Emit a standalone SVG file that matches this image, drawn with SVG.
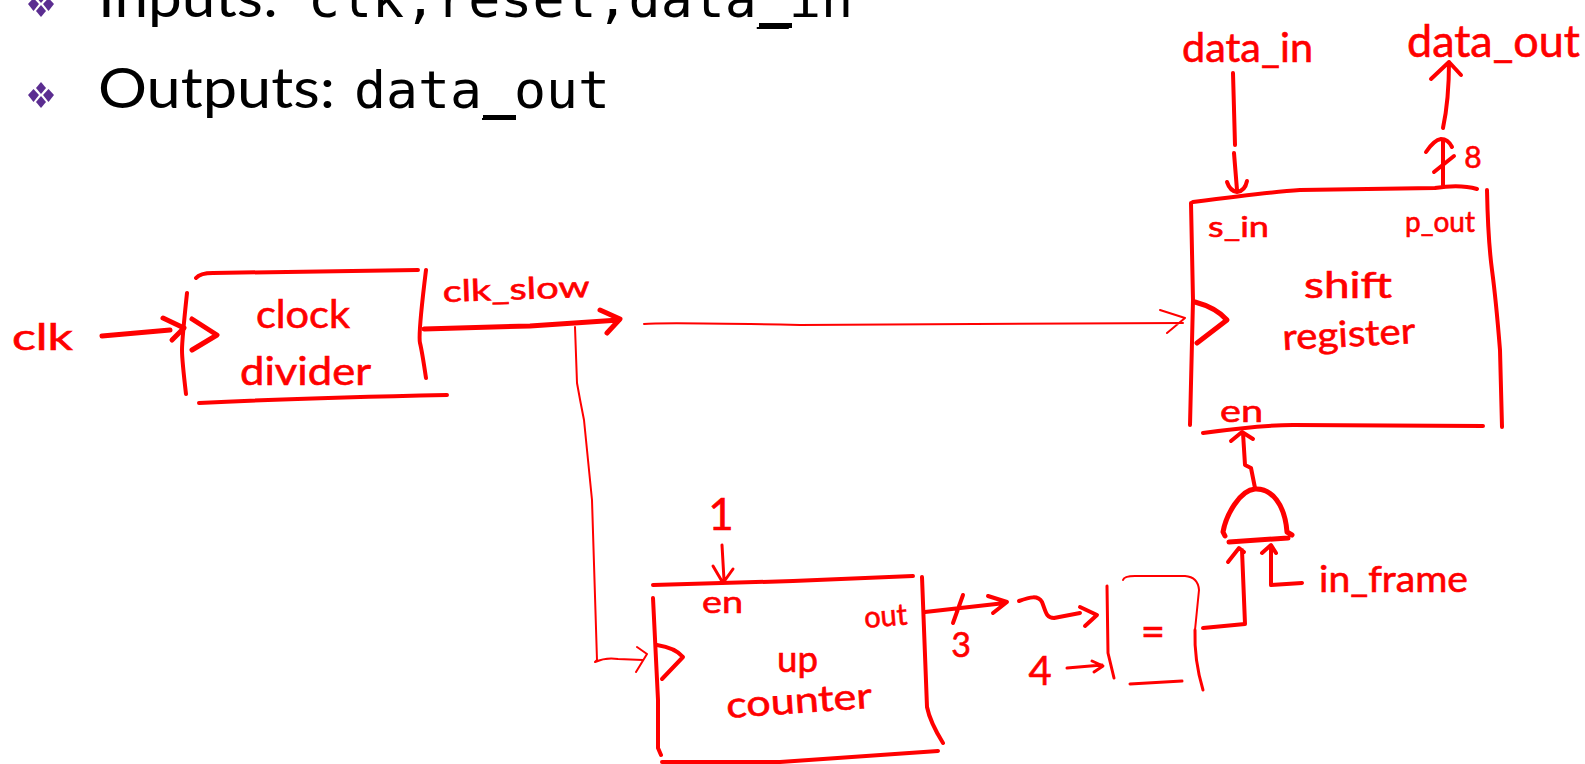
<svg xmlns="http://www.w3.org/2000/svg" width="1585" height="764" viewBox="0 0 1585 764">
<style>
.ink{fill:none;stroke:#f00;stroke-width:4;stroke-linecap:round;stroke-linejoin:round}
.thin{stroke-width:2}
.mid{stroke-width:3}
.bold{stroke-width:5}
.hw{fill:#f00;stroke:#f00;stroke-width:.6;font-family:"Lato","Open Sans",sans-serif}
.sans{font-family:"Lato","Open Sans",sans-serif;font-size:56px;fill:#000}
.mono{font-family:"DejaVu Sans Mono","Liberation Mono",monospace;font-size:52px;fill:#000}
.bar{fill:#000}
.dia{fill:#5b2d91}
</style>
<defs>
<g id="bullet"><path class="dia" d="M0-13 5-7 0-1-5-7Z"/><path class="dia" d="M-7.500-6-2 0-7.500 7-13 0Z"/><path class="dia" d="M7.500-6 13 0 7.500 7 2 0Z"/><path class="dia" d="M0 1 5 7 0 13-5 7Z"/></g>
</defs>
<g id="slide-text">
<use href="#bullet" x="41" y="4"/>
<use href="#bullet" x="41" y="95"/>
<text class="sans" x="98" y="17" textLength="180" lengthAdjust="spacingAndGlyphs">Inputs:</text>
<text class="mono" x="308" y="17" textLength="545" lengthAdjust="spacingAndGlyphs">clk,reset,data_in</text>
<text class="sans" x="98" y="108" textLength="237" lengthAdjust="spacingAndGlyphs">Outputs:</text>
<text class="mono" x="354" y="108" textLength="256" lengthAdjust="spacingAndGlyphs">data_out</text>
<rect class="bar" x="759" y="23" width="33" height="5"/>
<rect class="bar" x="483" y="115" width="33" height="5"/>
</g>
<g id="connectors">
<path class="ink bold" d="M102 336 170 330M163 318 184 328 172 340"/>
<path class="ink bold" d="M424 329 530 326 619 320M600 310 620 319 607 333"/>
<path class="ink thin" d="M575 327 577 383Q580 400 584 420L592 500 597 660 595 662Q606 657 618 659L643 660M637 647 647 654 636 672"/>
<path class="ink thin" d="M644 324Q660 322 800 325L1183 323M1160 310 1185 318 1167 333"/>
<path class="ink mid" d="M722 545 724 580M713 566 723 583 733 569"/>
<path class="ink" d="M925 612 1005 603M988 596 1007 602 993 613M963 595 953 623"/>
<path class="ink" d="M1019 601C1030 597 1038 595 1042 602 1046 612 1046 618 1054 618L1080 613M1080 607 1097 615 1085 626"/>
<path class="ink mid" d="M1067 668 1102 665M1092 661 1103 666 1094 672"/>
<path class="ink" d="M1203 628 1245 624 1242 550M1228 562 1239 548 1244 552"/>
<path class="ink" d="M1302 583 1271 585 1271 547M1262 553 1271 545 1276 553"/>
<path class="ink" d="M1255 488 1251 468 1245 465 1243 433M1231 441 1242 432 1253 439"/>
<path class="ink" d="M1233 73 1235 145M1234 153 1237 190M1227 182Q1230 191 1237 192 1245 191 1247 181"/>
<path class="ink" d="M1443 185 1443 140M1426 152Q1434 140 1441 139 1448 139 1452 147M1434 172 1454 156M1443 128Q1449 100 1449 62M1431 79 1449 62 1461 75"/>
</g>
<g id="clock-divider">
<path class="ink" d="M196 278Q200 273 213 273L418 270M187 293Q182 340 182 350T186 394M426 270Q418 335 420 343T426 378M199 403Q300 398 447 395"/>
<path class="ink bold" d="M192 331 217 347 192 362" transform="translate(0 -12)"/>
<text class="hw" x="12" y="350" font-size="36" textLength="61" lengthAdjust="spacingAndGlyphs">clk</text>
<text class="hw" x="443" y="302" font-size="30" textLength="147" lengthAdjust="spacingAndGlyphs" transform="rotate(-2 443 302)">clk_slow</text>
<text class="hw" x="256" y="328" font-size="38" textLength="94" lengthAdjust="spacingAndGlyphs">clock</text>
<text class="hw" x="240" y="385" font-size="38" textLength="131" lengthAdjust="spacingAndGlyphs">divider</text>
</g>
<g id="up-counter">
<path class="ink" d="M653 585 793 581 913 576M653 598 658 700 658 748 661 755M662 762 780 762 938 751M922 577 927 707Q930 722 943 743"/>
<path class="ink" d="M657 645C670 647 678 651 683 657L662 679"/>
<text class="hw" x="721" y="530" font-size="44" text-anchor="middle">1</text>
<text class="hw" x="702" y="613" font-size="30" textLength="41" lengthAdjust="spacingAndGlyphs">en</text>
<text class="hw" x="865" y="628" font-size="30" textLength="43" lengthAdjust="spacingAndGlyphs" transform="rotate(-5 865 628)">out</text>
<text class="hw" x="777" y="672" font-size="36" textLength="41" lengthAdjust="spacingAndGlyphs">up</text>
<text class="hw" x="727" y="718" font-size="36" textLength="146" lengthAdjust="spacingAndGlyphs" transform="rotate(-4 727 718)">counter</text>
<text class="hw" x="961" y="657" font-size="34" text-anchor="middle">3</text>
</g>
<g id="equals">
<path class="ink mid" d="M1107 586 1108 653 1114 678M1195 630Q1194 660 1203 690"/>
<path class="ink thin" d="M1123 580Q1124 576 1135 576L1185 576Q1198 577 1199 590L1195 630"/>
<path class="ink mid" d="M1130 684 1182 681"/>
<text class="hw" x="1153" y="646" font-size="42" text-anchor="middle" stroke-width="0">=</text>
<text class="hw" x="1040" y="685" font-size="40" text-anchor="middle">4</text>
</g>
<g id="and-gate">
<path class="ink bold" d="M1225 536 1223 532C1226 515 1240 490 1255 489 1272 488 1285 505 1287 532L1292 535M1229 542 1288 538"/>
<text class="hw" x="1319" y="592" font-size="36" textLength="149" lengthAdjust="spacingAndGlyphs">in_frame</text>
</g>
<g id="shift-register">
<path class="ink" d="M1193 202Q1270 192 1300 190L1435 188Q1460 184 1477 189M1191 203 1193 300 1190 425M1487 190Q1488 240 1492 270T1500 350L1502 427M1203 433Q1260 425 1293 425L1483 426"/>
<path class="ink bold" d="M1195 302C1210 306 1220 312 1227 320L1197 343"/>
<text class="hw" x="1182" y="62" font-size="40" textLength="131" lengthAdjust="spacingAndGlyphs">data_in</text>
<text class="hw" x="1407" y="57" font-size="44" textLength="173" lengthAdjust="spacingAndGlyphs">data_out</text>
<text class="hw" x="1473" y="168" font-size="30" text-anchor="middle">8</text>
<text class="hw" x="1208" y="237" font-size="28" textLength="61" lengthAdjust="spacingAndGlyphs">s_in</text>
<text class="hw" x="1405" y="232" font-size="28" textLength="70" lengthAdjust="spacingAndGlyphs">p_out</text>
<text class="hw" x="1304" y="298" font-size="36" textLength="88" lengthAdjust="spacingAndGlyphs">shift</text>
<text class="hw" x="1283" y="350" font-size="36" textLength="133" lengthAdjust="spacingAndGlyphs" transform="rotate(-3 1283 350)">register</text>
<text class="hw" x="1220" y="422" font-size="30" textLength="43" lengthAdjust="spacingAndGlyphs">en</text>
</g>
</svg>
